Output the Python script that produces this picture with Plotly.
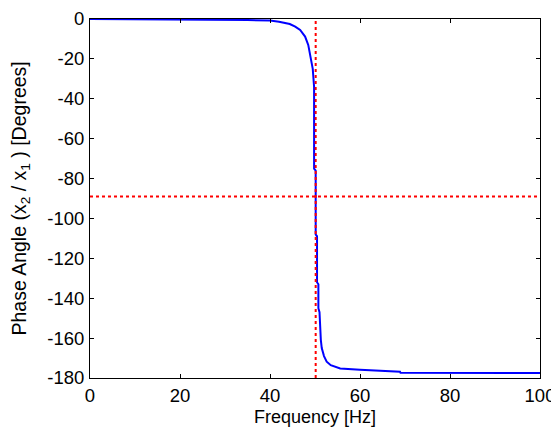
import plotly.graph_objects as go

freq_hz = [0, 20, 30, 35, 40, 42, 44.4, 45.6, 46.7, 47.3, 47.8, 48.5, 49.0, 49.5, 49.8, 49.8,
           50.15, 50.15, 50.45, 50.45, 50.75, 50.75, 51.0, 51.1, 51.3, 51.5, 52.0, 52.6, 53.5,
           55.6, 57.5, 60, 68.9, 69, 100]
phase_deg = [0, -0.1, -0.3, -0.5, -0.8, -1.4, -2.5, -3.8, -5.5, -7.0, -8.8, -13, -19, -25, -34,
             -75, -76, -108, -109, -132, -133, -145, -147, -155, -161, -165, -169, -171.8, -173.6,
             -175.2, -175.6, -175.9, -176.9, -177.4, -177.5]
natural_freq = 50.15
phase_marker = -89

x_ticks = [0, 20, 40, 60, 80, 100]
y_ticks = [0, -20, -40, -60, -80, -100, -120, -140, -160, -180]
x_title = "Frequency [Hz]"
y_title = "Phase Angle (x<sub>2</sub> / x<sub>1</sub> ) [Degrees]"

FONT = "Liberation Sans, Arial"
OFF = 8  # page body margin
W, H = 559 - OFF, 427 - OFF
ML, MR, MT, MB = 90 - OFF, 19, 19 - OFF, 49

fig = go.Figure()
fig.add_trace(go.Scatter(x=freq_hz, y=phase_deg, mode="lines",
                         line=dict(color="#0000ff", width=2), showlegend=False))
fig.add_trace(go.Scatter(x=[natural_freq, natural_freq], y=[-180, 0], mode="lines",
                         line=dict(color="#ff0000", width=2, dash="dot"), showlegend=False))
fig.add_trace(go.Scatter(x=[0, 100], y=[phase_marker, phase_marker], mode="lines",
                         line=dict(color="#ff0000", width=2, dash="dot"), showlegend=False))

axis_common = dict(showline=True, linecolor="black", linewidth=1, mirror="ticks",
                   ticks="inside", ticklen=4, tickcolor="black", showgrid=False,
                   zeroline=False, automargin=False,
                   tickfont=dict(family=FONT, size=18.5, color="black"))

pw, ph = W - ML - MR, H - MT - MB
fig.update_layout(
    width=W, height=H,
    margin=dict(l=ML, r=MR, t=MT, b=MB),
    paper_bgcolor="white", plot_bgcolor="white",
    font=dict(family=FONT, color="black"),
    xaxis=dict(range=[0, 100], tickvals=x_ticks, ticktext=[str(v) for v in x_ticks],
               ticklabelstandoff=1, **axis_common),
    yaxis=dict(range=[-180, 0], tickvals=y_ticks, ticktext=[str(v) for v in y_ticks],
               ticklabelstandoff=1, **axis_common),
    annotations=[
        dict(text=x_title, xref="paper", yref="paper", x=0.5,
             y=-((417 - OFF) - (H - MB)) / ph,
             xanchor="center", yanchor="middle", showarrow=False,
             font=dict(family=FONT, size=18, color="black")),
        dict(text=y_title, xref="paper", yref="paper",
             x=-(ML - (20 - OFF)) / pw, y=0.5,
             xanchor="center", yanchor="middle", textangle=-90, showarrow=False,
             font=dict(family=FONT, size=19.5, color="black")),
    ],
)

fig.write_html("out.html")
